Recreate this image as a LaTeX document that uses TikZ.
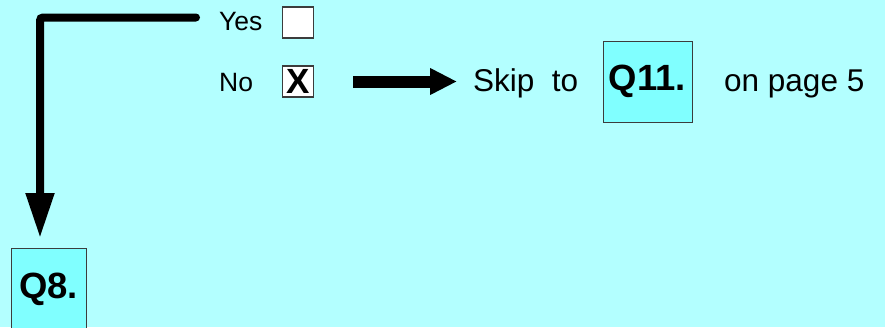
\documentclass[tikz,border=0pt]{standalone}
\usepackage{fontspec}
\setmainfont{Liberation Sans}
\usetikzlibrary{arrows.meta}
\definecolor{bgcyan}{RGB}{179,255,255}
\definecolor{qcyan}{RGB}{128,255,255}
\definecolor{edgegray}{RGB}{60,60,60}
\tikzset{
  lbl/.style={inner sep=0pt, anchor=base west, font=\fontsize{26.5}{30}\selectfont},
  biglbl/.style={inner sep=0pt, anchor=base west, font=\fontsize{31.5}{36}\selectfont},
  chk/.style={draw=edgegray, line width=1.2pt, fill=white, minimum size=31pt, inner sep=0pt, font=\bfseries\fontsize{35}{36}\selectfont},
  qbox/.style={draw=edgegray, line width=1pt, fill=qcyan, inner sep=0pt, font=\bfseries\fontsize{36.5}{40}\selectfont},
  flow/.style={line width=8pt, line cap=round, rounded corners=3pt, -{Triangle[length=45pt,width=27pt]}},
  skiparrow/.style={line width=12pt, -{Triangle[length=27pt,width=25pt]}}
}
\begin{document}
\begin{tikzpicture}[x=1pt,y=-1pt]
\fill[bgcyan] (0,0) rectangle (885,327);
\useasboundingbox (0,0) rectangle (885,327);
\node[lbl] (yes) at (219,30) {Yes};
\node[chk] (yesbox) at (298,22.5) {};
\node[lbl] (no) at (219,91) {No};
\node[chk] (nobox) at (298,81.5) {X};
\node[biglbl] (skip) at (473,91) {Skip\ \ to};
\node[qbox, minimum width=89pt, minimum height=81pt] (q11) at (647.5,81.5) {Q11.};
\node[biglbl] (onpage) at (724,91) {on page 5};
\node[qbox, minimum width=75pt, minimum height=82pt, anchor=north] (q8) at (48.5,248) {Q8.};
\coordinate (start) at (196,17.5);
\coordinate (corner) at (40,17.5);
\draw[flow, shorten >=10pt] (start) -- (corner) -- (corner |- q8.north);
\draw[skiparrow, shorten <=39pt, shorten >=16pt] (nobox.east) -- (skip.west |- nobox.east);
\end{tikzpicture}
\end{document}
